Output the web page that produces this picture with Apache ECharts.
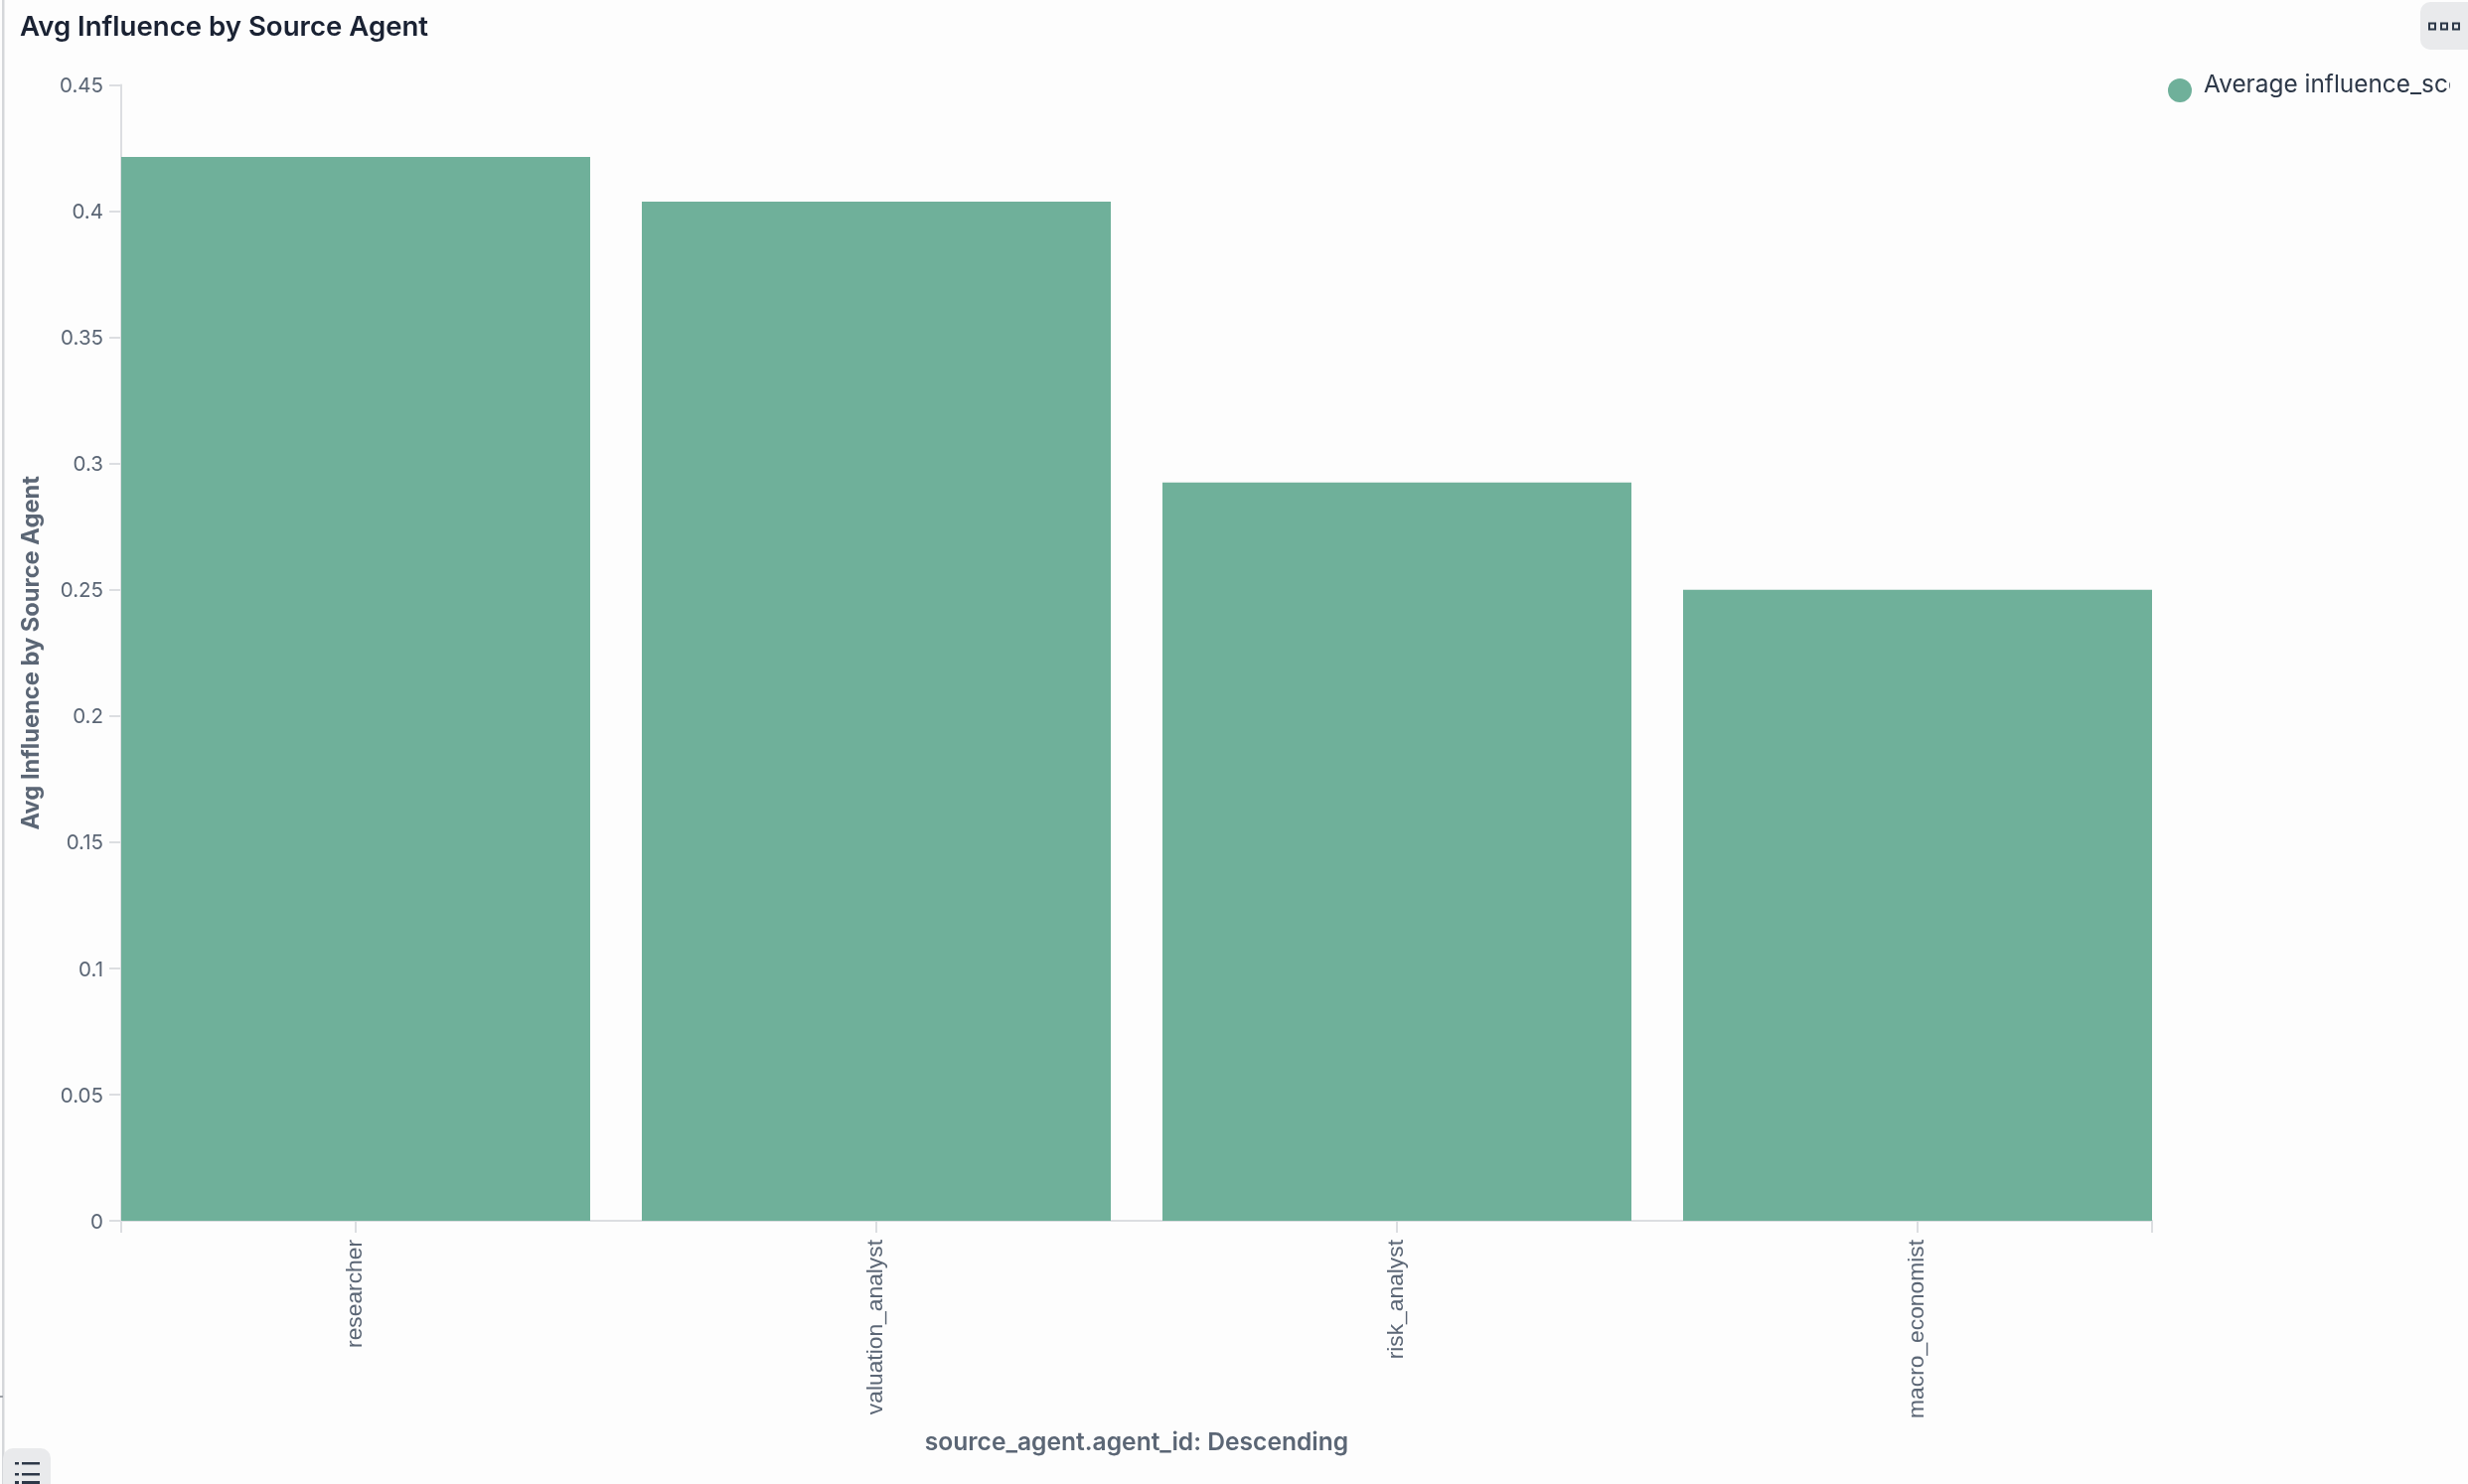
<!DOCTYPE html>
<html>
<head>
<meta charset="utf-8">
<style>html,body{margin:0;padding:0;background:#fdfdfd}#c{width:2484px;height:1494px}</style>
<script src="https://cdn.jsdelivr.net/npm/echarts@6/dist/echarts.min.js"></script>
</head>
<body>
<div id="c"></div>
<script>
const categories = ['researcher', 'valuation_analyst', 'risk_analyst', 'macro_economist'];
const avgInfluence = [0.4215, 0.4038, 0.2925, 0.25];
const yTicksMax = 0.45;
const yTickStep = 0.05;
const seriesName = 'Average influence_score';
const titleText = 'Avg Influence by Source Agent';
const xName = 'source_agent.agent_id: Descending';

const GREY = '#5b6675', LINE = '#dcdee1', GREEN = '#6fb09a';
const edge = 0.4504;
const positions = categories.map((_, i) => i);
const chart = echarts.init(document.getElementById('c'), null, {renderer: 'canvas'});
chart.setOption({
  animation: false,
  backgroundColor: '#fdfdfd',
  textStyle: {fontFamily: 'Inter'},
  title: {
    text: titleText, left: 15, top: 9,
    textStyle: {fontFamily: 'Inter', fontSize: 27.6, fontWeight: 600, color: '#1a2233'}
  },
  legend: {
    left: 2182, top: 73.5, icon: 'circle', itemWidth: 24, itemHeight: 24, itemGap: 0,
    padding: 0,
    data: [seriesName],
    formatter: '{t|{name}}',
    textStyle: {
      fontFamily: 'Inter', fontSize: 24.4, color: '#2d3848',
      rich: {t: {fontFamily: 'Inter', fontSize: 24.4, color: '#2d3848', padding: [0, 0, 11, 7]}}
    }
  },
  grid: {left: 122, right: 318, top: 85.5, bottom: 265, containLabel: false},
  xAxis: {
    type: 'value', min: -edge, max: 3 + edge,
    name: xName, nameLocation: 'middle', nameGap: 211,
    nameTextStyle: {fontFamily: 'Inter', fontSize: 24.6, fontWeight: 600, color: GREY},
    splitLine: {show: false},
    axisLine: {show: true, onZero: false, lineStyle: {color: LINE, width: 2}},
    axisTick: {show: true, length: 12, lineStyle: {color: LINE, width: 2}, customValues: [-edge, ...positions, 3 + edge]},
    axisLabel: {
      rotate: 90, margin: 19, fontFamily: 'Liberation Sans', fontSize: 22.8, color: GREY,
      customValues: positions,
      formatter: v => categories[Math.round(v)]
    }
  },
  yAxis: {
    type: 'value', min: 0, max: yTicksMax, interval: yTickStep,
    name: titleText, nameLocation: 'middle', nameGap: 78,
    nameTextStyle: {fontFamily: 'Inter', fontSize: 23.7, fontWeight: 700, color: GREY},
    splitLine: {show: false},
    axisLine: {show: true, onZero: false, lineStyle: {color: LINE, width: 2}},
    axisTick: {show: true, length: 12, lineStyle: {color: LINE, width: 2}},
    axisLabel: {
      margin: 18, fontFamily: 'Inter', fontSize: 20.5, color: GREY,
      formatter: '{t|{value}}',
      rich: {t: {fontFamily: 'Inter', fontSize: 20.5, color: GREY, padding: [3, 0, 0, 0]}}
    }
  },
  series: [{
    name: seriesName, type: 'bar', barWidth: 472,
    itemStyle: {color: GREEN},
    data: avgInfluence.map((v, i) => [positions[i], v])
  }],
  graphic: [
    {type: 'rect', z: 100, shape: {x: 2466, y: 60, width: 18, height: 60}, style: {fill: '#fdfdfd'}},
    {type: 'rect', z: 100, shape: {x: 2, y: 0, width: 2.5, height: 1494}, style: {fill: '#d5d7da'}},
    {type: 'rect', z: 100, shape: {x: 0, y: 1405, width: 3, height: 2}, style: {fill: '#9ca0a6'}},
    {type: 'rect', z: 100, shape: {x: 2436, y: 2, width: 60, height: 48, r: 10}, style: {fill: '#e9eaec'}},
    ...[2444, 2456, 2468].map(x => ({type: 'rect', z: 101, shape: {x: x + 1, y: 23.5, width: 6, height: 6}, style: {fill: '#e9eaec', stroke: '#2d3848', lineWidth: 2}})),
    {type: 'rect', z: 100, shape: {x: 3, y: 1458, width: 48, height: 50, r: 10}, style: {fill: '#e9eaec'}},
    ...[1473, 1484].map(y => [{x: 15, w: 4}, {x: 22, w: 18}].map(s => ({type: 'rect', z: 101, shape: {x: s.x, y: y - 1, width: s.w, height: 2.5}, style: {fill: '#2d3848'}}))).flat(),
    ...[{x: 15, w: 4}, {x: 22, w: 18}].map(s => ({type: 'rect', z: 101, shape: {x: s.x, y: 1491, width: s.w, height: 3}, style: {fill: '#2d3848'}}))
  ]
});
</script>
</body>
</html>
